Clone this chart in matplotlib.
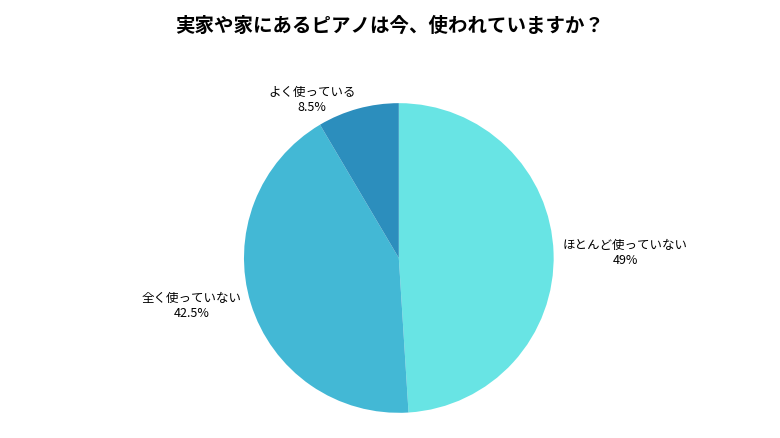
import matplotlib.pyplot as plt

plt.rcParams["font.family"] = "Noto Sans CJK JP"

categories = ["ほとんど使っていない", "全く使っていない", "よく使っている"]
values = [49, 42.5, 8.5]
pct_labels = ["49%", "42.5%", "8.5%"]
colors = ["#68E4E4", "#43B8D5", "#2C8EBD"]

fig = plt.figure(figsize=(7.8, 4.38), dpi=100)
fig.text(0.5, 0.94, "実家や家にあるピアノは今、使われていますか？",
         ha="center", va="center", fontsize=14, fontweight="bold")

ax = fig.add_axes([0.3128, 0.057, 0.397, 0.708])
labels = [f"{c}\n{p}" for c, p in zip(categories, pct_labels)]
wedges, texts = ax.pie(values, colors=colors, startangle=90, counterclock=False,
                       labels=labels, labeldistance=1.06, radius=1.0,
                       textprops={"fontsize": 9, "multialignment": "center"})
ax.set_xlim(-1, 1)
ax.set_ylim(-1, 1)
ax.set_aspect("equal")
ax.axis("off")
fig.savefig("out.png", dpi=100)
